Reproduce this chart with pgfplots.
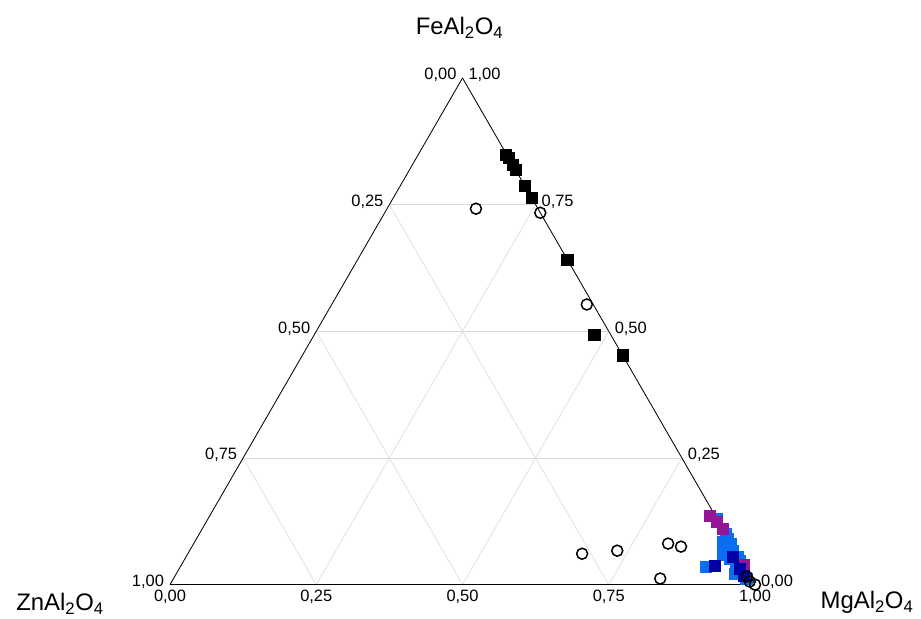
\documentclass[border=0pt]{standalone}
\usepackage{pgfplots}
\pgfplotsset{compat=1.18}
\usepgfplotslibrary{ternary}
\usetikzlibrary{calc}
\usepackage{fontspec}
\setmainfont{Liberation Sans}
\definecolor{mypurple}{RGB}{150,20,150}
\definecolor{lblue}{RGB}{10,110,240}
\definecolor{dblue}{RGB}{0,0,165}
\begin{document}
\begin{tikzpicture}
\begin{ternaryaxis}[
  scale only axis,
  width=585bp, height=506.6bp,
  clip=false,
  xtick={0,0.25,0.5,0.75,1},
  ytick={0,0.25,0.5,0.75,1},
  ztick={0,0.25,0.5,0.75,1},
  xticklabels={{0,00},{0,25},{0,50},{0,75},{1,00}},
  yticklabels={{0,00},{0,25},{0,50},{0,75},{1,00}},
  zticklabels={{0,00},{0,25},{0,50},{0,75},{1,00}},
  tick label style={font=\fontsize{16.5}{16.5}\selectfont},
  xticklabel style={anchor=west, xshift=2.5bp, yshift=3bp},
  yticklabel style={anchor=east, xshift=-2.5bp, yshift=3bp},
  zticklabel style={anchor=north, yshift=-2bp},
  major tick length=0pt,
  grid=major,
  major grid style={line width=0.6bp, color=black!15},
  axis line style={line width=0.8bp},
]
% (FeAl2O4, ZnAl2O4, MgAl2O4)
\addplot3[only marks, mark=square*, mark size=5.6bp, color=lblue] coordinates {
 (0.130,0.000,0.870) (0.100,0.000,0.900) (0.091,0.001,0.908) (0.081,0.002,0.917)
 (0.067,0.004,0.929) (0.055,0.002,0.943) (0.047,0.002,0.951) (0.035,0.015,0.950)
 (0.022,0.011,0.967) (0.012,0.009,0.979) (0.035,0.067,0.898)
 (0.071,0.016,0.913) (0.051,0.018,0.931) (0.022,0.023,0.955)
 (0.085,0.012,0.903) (0.060,0.025,0.915)
};
\addplot3[only marks, mark=square*, mark size=5.6bp, color=mypurple] coordinates {
 (0.136,0.009,0.855) (0.124,0.003,0.873) (0.110,0.000,0.890) (0.039,0.000,0.961)
};
\addplot3[only marks, mark=square*, mark size=5.6bp, color=dblue] coordinates {
 (0.037,0.050,0.913) (0.055,0.010,0.935) (0.031,0.010,0.959) (0.018,0.011,0.971)
};
\addplot3[only marks, mark=o, mark size=5.5bp, line width=1.5bp, color=black, mark options={fill=white}] coordinates {
 (0.742,0.106,0.152) (0.734,0.000,0.266) (0.553,0.011,0.436)
 (0.061,0.265,0.674) (0.067,0.202,0.731) (0.081,0.108,0.811) (0.075,0.089,0.836)
 (0.012,0.156,0.832) (0.000,0.000,1.000) (0.006,0.006,0.988) (0.016,0.006,0.978)
};
\addplot3[only marks, mark=square*, mark size=5.6bp, color=black] coordinates {
 (0.819,0.000,0.181) (0.829,0.000,0.171) (0.843,0.000,0.157) (0.848,0.002,0.150)
 (0.787,0.000,0.213) (0.764,0.000,0.236) (0.642,0.000,0.358)
 (0.494,0.028,0.478) (0.453,0.000,0.547)
};
\coordinate (T) at (axis cs:1,0,0);
\coordinate (L) at (axis cs:0,1,0);
\coordinate (R) at (axis cs:0,0,1);
\end{ternaryaxis}
\node[anchor=base, font=\fontsize{24}{24}\selectfont, inner sep=0pt] at ($(T)+(-3bp,43bp)$) {FeAl\textsubscript{2}O\textsubscript{4}};
\node[anchor=base, font=\fontsize{24}{24}\selectfont, inner sep=0pt] at ($(L)+(-110bp,-26bp)$) {ZnAl\textsubscript{2}O\textsubscript{4}};
\node[anchor=base, font=\fontsize{24}{24}\selectfont, inner sep=0pt] at ($(R)+(112bp,-24bp)$) {MgAl\textsubscript{2}O\textsubscript{4}};
\pgfresetboundingbox
\coordinate (BL) at ($(L)+(-170bp,-34bp)$);
\coordinate (A) at ($(R)+(166bp,0)$);
\coordinate (B) at ($(T)+(0,78bp)$);
\path (BL) rectangle (A |- B);
\end{tikzpicture}
\end{document}
